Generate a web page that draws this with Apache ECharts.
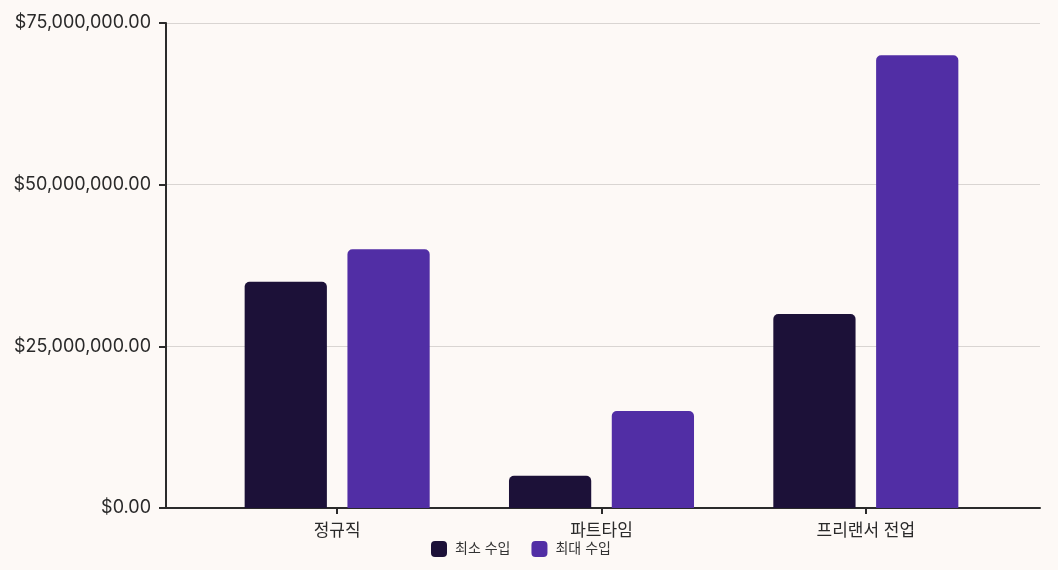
<!DOCTYPE html>
<html>
<head>
<meta charset="utf-8">
<script src="https://cdn.jsdelivr.net/npm/echarts@6/dist/echarts.min.js"></script>
<style>
html,body{margin:0;padding:0;background:#fdf9f6;}
#c{width:1058px;height:570px;}
</style>
</head>
<body>
<div id="c"></div>
<script>
const categories = ['정규직', '파트타임', '프리랜서 전업'];
const minIncome = [35000000, 5000000, 30000000];
const maxIncome = [40000000, 15000000, 70000000];
const seriesNames = ['최소 수입', '최대 수입'];
const yTicks = [0, 25000000, 50000000, 75000000];

const FONT = 'Inter, "Noto Sans CJK KR", sans-serif';
const AX = '#2b2b2b';
const chart = echarts.init(document.getElementById('c'), null, {renderer: 'canvas'});
function fmt(v){
  return '$' + Number(v).toLocaleString('en-US', {minimumFractionDigits: 2, maximumFractionDigits: 2});
}
chart.setOption({
  backgroundColor: '#fdf9f6',
  animation: false,
  textStyle: {fontFamily: FONT},
  grid: [
    {left: 166, right: 18, top: 23, bottom: 62},
    {left: 205, right: 60, top: 23, bottom: 62}
  ],
  legend: {
    data: seriesNames,
    left: 426,
    top: 536,
    itemWidth: 16,
    itemHeight: 16,
    itemGap: 21,
    icon: 'roundRect',
    textStyle: {fontSize: 14, color: '#333', fontFamily: FONT, padding: [0, 0, 0, 3]}
  },
  xAxis: [
    {
      gridIndex: 0, type: 'value', min: 0, max: 1,
      axisLine: {show: true, onZero: false, lineStyle: {color: AX, width: 2}},
      axisTick: {show: false}, axisLabel: {show: false}, splitLine: {show: false}
    },
    {
      gridIndex: 1, type: 'category', data: categories,
      axisLine: {show: false},
      axisTick: {show: true, alignWithLabel: true, length: 6, lineStyle: {color: AX, width: 2}},
      axisLabel: {fontSize: 17, color: '#2a2a2a', margin: 14, fontFamily: FONT}
    }
  ],
  yAxis: [
    {
      gridIndex: 0, type: 'value', min: 0, max: 75000000, interval: 25000000,
      axisLine: {show: true, lineStyle: {color: AX, width: 2}},
      axisTick: {show: true, length: 7, lineStyle: {color: AX, width: 2}},
      axisLabel: {fontSize: 18, color: '#2a2a2a', margin: 15, formatter: fmt, fontFamily: FONT},
      splitLine: {show: true, lineStyle: {color: '#d9d5d2', width: 1}}
    },
    {
      gridIndex: 1, type: 'value', min: 0, max: 75000000, show: false,
      splitLine: {show: false}
    }
  ],
  series: [
    {
      name: seriesNames[0], type: 'bar', xAxisIndex: 1, yAxisIndex: 1,
      data: minIncome, barGap: '25%', barCategoryGap: '30%',
      itemStyle: {color: '#1c1138', borderRadius: [5, 5, 0, 0]}
    },
    {
      name: seriesNames[1], type: 'bar', xAxisIndex: 1, yAxisIndex: 1,
      data: maxIncome, barGap: '25%', barCategoryGap: '30%',
      itemStyle: {color: '#512ea5', borderRadius: [5, 5, 0, 0]}
    }
  ]
});
</script>
</body>
</html>
